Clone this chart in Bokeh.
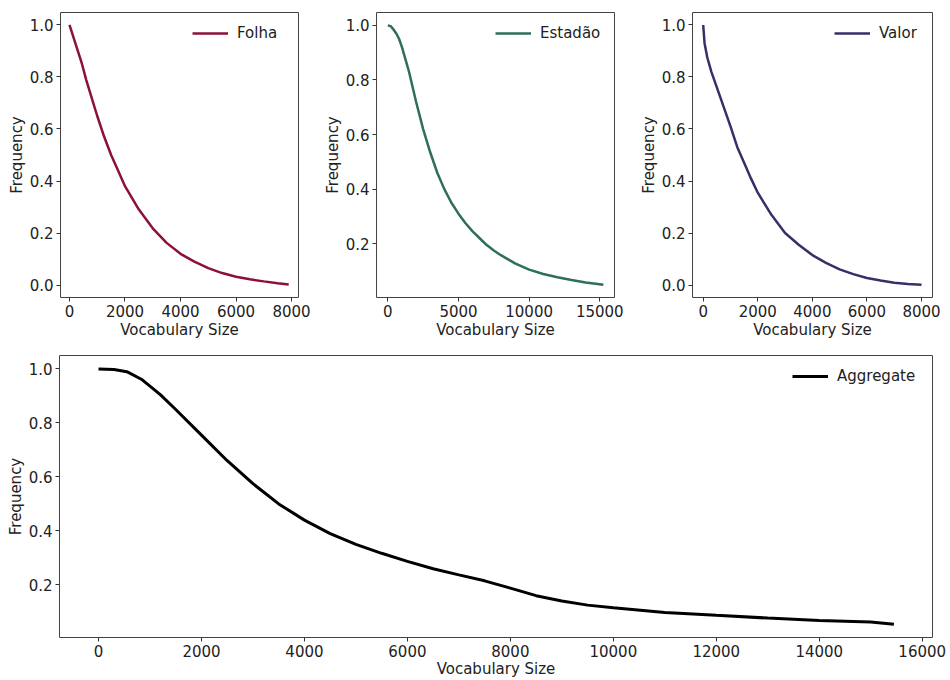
from bokeh.plotting import figure
from bokeh.layouts import row, column
from bokeh.models import FixedTicker, NumeralTickFormatter, Range1d
from bokeh.embed import file_html
from bokeh.resources import INLINE

# Normalised frequency vs. vocabulary size, per newspaper and combined
folha_x = [0, 150, 300, 450, 600, 800, 1000, 1250, 1500, 1750, 2000, 2500, 3000,
           3500, 4000, 4500, 5000, 5500, 6000, 6500, 7000, 7500, 7900]
folha_y = [1.0, 0.95, 0.90, 0.85, 0.79, 0.72, 0.65, 0.57, 0.50, 0.44, 0.38, 0.29,
           0.218, 0.162, 0.12, 0.09, 0.065, 0.046, 0.032, 0.022, 0.014, 0.007, 0.002]

estadao_x = [0, 200, 400, 600, 800, 1000, 1250, 1500, 1750, 2000, 2500, 3000, 3500,
             4000, 4500, 5000, 5500, 6000, 6500, 7000, 7500, 8000, 9000, 10000, 11000,
             12000, 13000, 14000, 15250]
estadao_y = [1.0, 0.997, 0.985, 0.97, 0.95, 0.92, 0.875, 0.83, 0.775, 0.72, 0.62,
             0.535, 0.46, 0.40, 0.35, 0.31, 0.275, 0.245, 0.22, 0.195, 0.175, 0.158,
             0.128, 0.105, 0.089, 0.077, 0.067, 0.058, 0.05]

valor_x = [0, 50, 150, 300, 500, 750, 1000, 1250, 1500, 1750, 2000, 2500, 3000, 3500,
           4000, 4500, 5000, 5500, 6000, 6500, 7000, 7500, 8000]
valor_y = [1.0, 0.93, 0.875, 0.82, 0.76, 0.685, 0.61, 0.53, 0.47, 0.41, 0.355, 0.27,
           0.20, 0.155, 0.115, 0.085, 0.06, 0.042, 0.027, 0.017, 0.009, 0.004, 0.001]

aggregate_x = [0, 300, 550, 850, 1200, 1500, 2000, 2500, 3000, 3500, 4000, 4500, 5000,
               5500, 6000, 6500, 7000, 7500, 8000, 8500, 9000, 9500, 10000, 11000,
               12000, 13000, 14000, 15000, 15450]
aggregate_y = [1.0, 0.998, 0.99, 0.96, 0.905, 0.85, 0.755, 0.66, 0.575, 0.50, 0.44,
               0.39, 0.35, 0.317, 0.287, 0.26, 0.237, 0.215, 0.188, 0.16, 0.14, 0.125,
               0.115, 0.098, 0.087, 0.077, 0.068, 0.062, 0.054]

freq_ticks = [0.0, 0.2, 0.4, 0.6, 0.8, 1.0]
ticks_8k = [0, 2000, 4000, 6000, 8000]
ticks_15k = [0, 5000, 10000, 15000]
ticks_16k = [0, 2000, 4000, 6000, 8000, 10000, 12000, 14000, 16000]

FONT = "DejaVu Sans"
TEXT = "#222222"
SIZE = "15px"


def panel(xs, ys, color, name, xr, yr, xticks, fw, fh, lw,
          left, right, top, bottom, label_w, x_label_standoff=1):
    p = figure(frame_width=fw, frame_height=fh,
               x_range=Range1d(*xr), y_range=Range1d(*yr),
               output_backend="svg", toolbar_location=None,
               min_border_left=left, min_border_right=right,
               min_border_top=top, min_border_bottom=bottom,
               background_fill_color="white", border_fill_color="white")
    p.line(xs, ys, line_color=color, line_width=lw, legend_label=name)

    p.xgrid.visible = False
    p.ygrid.visible = False
    p.outline_line_color = "#444444"
    p.outline_line_width = 1
    p.outline_line_alpha = 1

    p.xaxis.ticker = FixedTicker(ticks=xticks)
    p.yaxis.ticker = FixedTicker(ticks=freq_ticks)
    p.yaxis.formatter = NumeralTickFormatter(format="0.0")
    p.xaxis.axis_label = "Vocabulary Size"
    p.yaxis.axis_label = "Frequency"
    for ax in (p.xaxis, p.yaxis):
        ax.axis_line_color = None
        ax.major_tick_line_color = "#333333"
        ax.major_tick_out = 4
        ax.major_tick_in = 0
        ax.minor_tick_line_color = None
        ax.major_label_text_font = FONT
        ax.major_label_text_font_size = SIZE
        ax.major_label_text_color = TEXT
        ax.axis_label_text_font = FONT
        ax.axis_label_text_font_size = SIZE
        ax.axis_label_text_font_style = "normal"
        ax.axis_label_text_color = TEXT
        ax.major_label_standoff = 3
        ax.axis_label_standoff = 1
    p.xaxis.axis_label_standoff = x_label_standoff

    leg = p.legend[0]
    leg.location = "top_right"
    leg.border_line_color = None
    leg.background_fill_alpha = 0
    leg.label_text_font = FONT
    leg.label_text_font_size = SIZE
    leg.label_text_color = TEXT
    leg.glyph_width = 36
    leg.label_standoff = 9
    leg.label_width = label_w
    leg.margin = 11
    leg.padding = 8
    return p


p1 = panel(folha_x, folha_y, "#8c1038", "Folha", (-324, 8252), (-0.048, 1.048),
           ticks_8k, 238, 285, 2.5, 60, 18, 12, 43, 50)
p2 = panel(estadao_x, estadao_y, "#2e6e5a", "Estadão", (-800, 16040), (0.003, 1.047),
           ticks_15k, 238, 285, 2.5, 60, 18, 12, 43, 63)
p3 = panel(valor_x, valor_y, "#363068", "Valor", (-392, 8403), (-0.048, 1.048),
           ticks_8k, 240, 285, 2.5, 60, 18, 12, 43, 42)
p4 = panel(aggregate_x, aggregate_y, "black", "Aggregate", (-758, 16200), (0.005, 1.05),
           ticks_16k, 873, 282, 3, 59, 18, 14, 40, 84, x_label_standoff=0)

layout = column(row(p1, p2, p3, spacing=0), p4, spacing=0)

open("out.html", "w").write(file_html(layout, INLINE))
